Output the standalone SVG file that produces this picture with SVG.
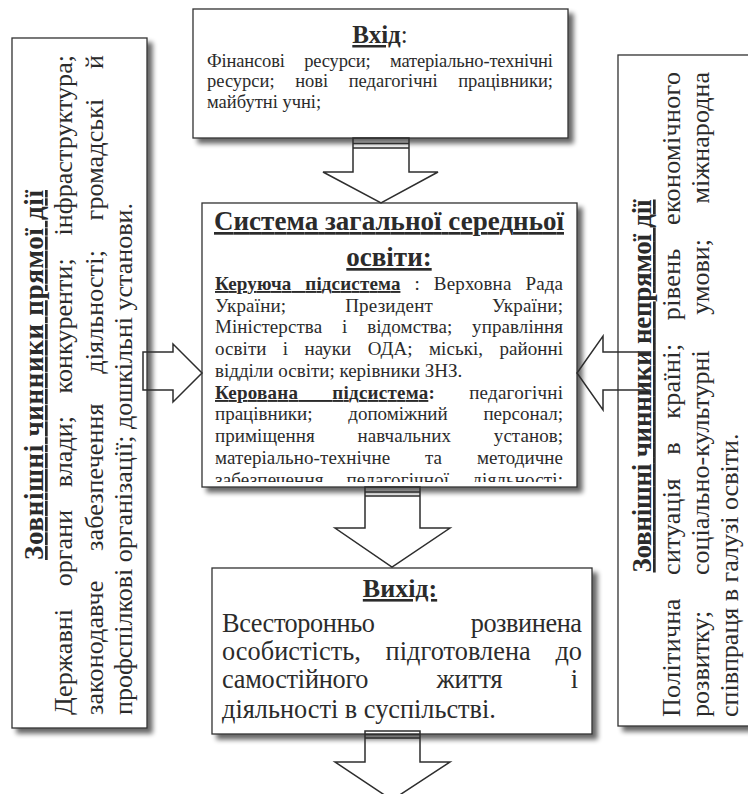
<svg xmlns="http://www.w3.org/2000/svg" width="748" height="794" viewBox="0 0 748 794">
<style>
text { font-family: "Liberation Serif", "Times New Roman", serif; fill: #2b2b2b; }
.box { fill: #ffffff; stroke: #333333; stroke-width: 1.3; }
.arrow { fill: none; stroke: #2e2e2e; stroke-width: 1.5; stroke-linejoin: miter; }
.h { font-weight: bold; }
.u { text-decoration: underline; }
.f18 { font-size: 18.5px; }
.f19 { font-size: 19px; }
.f25 { font-size: 26.3px; }
.f26 { font-size: 26px; }
</style>
<defs>
<filter id="sh" x="-10%" y="-10%" width="125%" height="125%">
<feGaussianBlur in="SourceAlpha" stdDeviation="2.5"/>
<feOffset dx="5" dy="5" result="o"/>
<feComponentTransfer><feFuncA type="linear" slope="0.6"/></feComponentTransfer>
<feMerge><feMergeNode/><feMergeNode in="SourceGraphic"/></feMerge>
</filter>
<clipPath id="cc"><rect x="202" y="203" width="375" height="279"/></clipPath>
</defs>

<g id="left-factors">
<rect class="box" x="12" y="38" width="135" height="690" filter="url(#sh)"/>
<text class="h u" font-size="27" transform="translate(43,375) rotate(-90)" text-anchor="middle" textLength="370" lengthAdjust="spacing">Зовнішні чинники прямої дії</text>
<text class="f26" transform="translate(72,715) rotate(-90)" style="word-spacing:16px" textLength="660" lengthAdjust="spacing">Державні органи влади; конкуренти; інфраструктура;</text>
<text class="f26" transform="translate(103,715) rotate(-90)" style="word-spacing:23px" textLength="660" lengthAdjust="spacing">законодавче забезпечення діяльності; громадські й</text>
<text class="f26" transform="translate(132,715) rotate(-90)">профспілкові організації; дошкільні установи.</text>
</g>

<g id="right-factors">
<rect class="box" x="618" y="55" width="140" height="671" filter="url(#sh)"/>
<text class="h u" font-size="27" transform="translate(651,386) rotate(-90)" text-anchor="middle" textLength="373" lengthAdjust="spacing">Зовнішні чинники непрямої дії</text>
<text class="f26" transform="translate(680,717) rotate(-90)" style="word-spacing:16.5px" textLength="645" lengthAdjust="spacing">Політична ситуація в країні; рівень економічного</text>
<text class="f26" transform="translate(709,717) rotate(-90)" style="word-spacing:29px" textLength="645" lengthAdjust="spacing">розвитку; соціально-культурні умови; міжнародна</text>
<text class="f26" transform="translate(738,717) rotate(-90)">співпраця в галузі освіти.</text>
</g>

<g id="input">
<rect class="box" x="193" y="9" width="375" height="129" filter="url(#sh)"/>
<text class="h" font-size="25" x="380" y="43" text-anchor="middle"><tspan class="u">Вхід</tspan><tspan font-weight="normal">:</tspan></text>
<text class="f18" x="207" y="67" style="word-spacing:15px" textLength="346" lengthAdjust="spacing">Фінансові ресурси; матеріально-технічні</text>
<text class="f18" x="207" y="87" style="word-spacing:16px" textLength="346" lengthAdjust="spacing">ресурси; нові педагогічні працівники;</text>
<text class="f18" x="207" y="108">майбутні учні;</text>
</g>

<g id="system">
<rect class="box" x="202" y="203" width="375" height="284" filter="url(#sh)"/>
<text class="h u" font-size="27" x="389" y="230" text-anchor="middle" textLength="350" lengthAdjust="spacing">Система загальної середньої</text>
<text class="h u" font-size="27" x="389" y="266" text-anchor="middle">освіти:</text>
<g clip-path="url(#cc)">
<text class="f19" x="215" y="290" style="word-spacing:9px" textLength="348" lengthAdjust="spacing"><tspan class="h u">Керуюча підсистема</tspan> : Верховна Рада</text>
<text class="f19" x="215" y="312" style="word-spacing:54px" textLength="348" lengthAdjust="spacing">України; Президент України;</text>
<text class="f19" x="215" y="333" style="word-spacing:15px" textLength="348" lengthAdjust="spacing">Міністерства і відомства; управління</text>
<text class="f19" x="215" y="355" style="word-spacing:11.5px" textLength="348" lengthAdjust="spacing">освіти і науки ОДА; міські, районні</text>
<text class="f19" x="215" y="377">відділи освіти; керівники ЗНЗ.</text>
<text class="f19" x="215" y="399" style="word-spacing:29px" textLength="348" lengthAdjust="spacing"><tspan class="h u">Керована підсистема</tspan><tspan class="h">:</tspan> педагогічні</text>
<text class="f19" x="215" y="420" style="word-spacing:31px" textLength="348" lengthAdjust="spacing">працівники; допоміжний персонал;</text>
<text class="f19" x="215" y="442" style="word-spacing:38px" textLength="348" lengthAdjust="spacing">приміщення навчальних установ;</text>
<text class="f19" x="215" y="464" style="word-spacing:30px" textLength="348" lengthAdjust="spacing">матеріально-технічне та методичне</text>
<text class="f19" x="215" y="486" style="word-spacing:18px" textLength="348" lengthAdjust="spacing">забезпечення педагогічної діяльності;</text>
</g>
</g>

<g id="output">
<rect class="box" x="212" y="568" width="380" height="166" filter="url(#sh)"/>
<text class="h u" font-size="26" x="400" y="597" text-anchor="middle">Вихід:</text>
<text class="f25" x="222" y="632" style="word-spacing:90px" textLength="360" lengthAdjust="spacing">Всесторонньо розвинена</text>
<text class="f25" x="222" y="660" style="word-spacing:18px" textLength="360" lengthAdjust="spacing">особистість, підготовлена до</text>
<text class="f25" x="222" y="688" style="word-spacing:62px" textLength="356" lengthAdjust="spacing">самостійного життя і</text>
<text class="f25" x="222" y="718">діяльності в суспільстві.</text>
</g>

<g id="connectors">
<path class="arrow" d="M353,138 V172 H323 L381,203 L438,172 H409 V138 Z M353,143.5 H409 M353,148 H409"/>
<path class="arrow" d="M365,487 V528 H335 L392,567 L450,528 H420 V487 Z M365,492 H420 M365,496 H420"/>
<path class="arrow" d="M365,731 V762 H335 L392,800 L450,762 H420 V731 Z M365,734.5 H420 M365,738 H420"/>
<path class="arrow" d="M143,352 H173 V344 L202,373 L173,402 V390 H143 Z"/>
<path class="arrow" d="M650,352 H603 V336 L577,373 L603,410 V390 H650"/>
</g>
</svg>
